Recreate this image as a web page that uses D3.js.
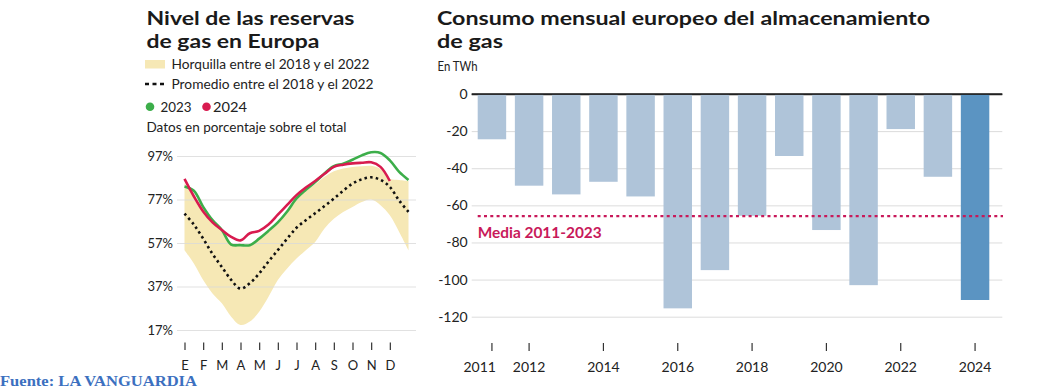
<!DOCTYPE html>
<html><head><meta charset="utf-8">
<script src="https://cdn.jsdelivr.net/npm/d3@7"></script>
<style>
html,body{margin:0;padding:0;background:#fff;}
svg{display:block;font-family:Lato,"Open Sans",sans-serif;}
</style></head>
<body>
<svg id="c" width="1043" height="389"></svg>
<script>
// ---------- DATA ----------
const months = ["E","F","M","A","M","J","J","A","S","O","N","D"];
const monthPos = [0,0.5,1,1.5,2,2.5,3,3.5,4,4.5,5,5.5,6,6.5,7,7.5,8,8.5,9,9.5,10,10.5,11,11.5,12];
const rangeHigh = [84.5,79,73,67,62,57,55.5,56,58.5,62,66,71.5,77.5,81,84,87.5,90,91.3,92,92.3,92.5,91,86.5,86,85.5];
const rangeLow  = [53.7,47.6,40,33.8,29.3,23.1,19.3,20.9,25.4,32.3,40,45.3,49.9,53.7,57.5,63.7,68.2,71.3,73.6,75.9,77,74.4,69.8,62.1,53.7];
const average   = [70.5,65.5,59,52,46,40,36,38.5,43,48.5,53.7,59,64,67.5,70.7,74,77.4,81,84.3,86.3,87.2,86,82.8,76.5,71.3];
const y2023     = [83,81,73.6,67.5,63,56.3,56,56,59,62.6,66.5,71.5,77.5,81.5,85,89,92.3,93.5,95.3,97.3,98.7,98.4,95,89.7,86];
const y2024     = [86.5,78.5,71.5,66.5,63,59.8,58.2,61.5,62.6,65.5,70,74.5,79,82.5,85.5,88.8,92,93,93.6,93.9,94.1,92,85.5];
const pctTicks  = [17,37,57,77,97];

const years     = [2011,2012,2013,2014,2015,2016,2017,2018,2019,2020,2021,2022,2023,2024];
const consumo   = [-24.4,-49.4,-54.1,-47.3,-55.2,-115.5,-94.9,-65.6,-33.4,-73.3,-103,-18.9,-44.6,-111];
const yearTicks = [2011,2012,2014,2016,2018,2020,2022,2024];
const twhTicks  = [0,-20,-40,-60,-80,-100,-120];
const mediaValue = -65.8;

// ---------- HELPERS ----------
const svg = d3.select("#c");
function txt(sel, s, x, y, opts){
  const t = sel.append("text").attr("x",x).attr("y",y).text(s);
  Object.entries(opts||{}).forEach(([k,v])=>{ if(k!=="fit") t.attr(k,v); });
  if(opts && opts.fit){
    t.attr("textLength",opts.fit).attr("lengthAdjust","spacingAndGlyphs");
  }
  return t;
}

// ---------- LEFT CHART ----------
const L = svg.append("g");
txt(L,"Nivel de las reservas",146.5,24.5,{"font-size":19,"font-weight":700,fill:"#1a1a1a",fit:208});
txt(L,"de gas en Europa",146.5,47.5,{"font-size":19,"font-weight":700,fill:"#1a1a1a",fit:173});

L.append("rect").attr("x",145).attr("y",60).attr("width",20).attr("height",8.5).attr("fill","#f6e8b5");
txt(L,"Horquilla entre el 2018 y el 2022",171.5,68.8,{"font-size":13.5,fill:"#222",fit:198});
L.append("line").attr("x1",145).attr("x2",166).attr("y1",84).attr("y2",84)
  .attr("stroke","#111").attr("stroke-width",2.5).attr("stroke-dasharray","4,3.5");
txt(L,"Promedio entre el 2018 y el 2022",171.5,88.5,{"font-size":13.5,fill:"#222",fit:202});
L.append("circle").attr("cx",150).attr("cy",106.8).attr("r",4.3).attr("fill","#3cae4a");
txt(L,"2023",160.5,111.6,{"font-size":13.5,fill:"#222",fit:31});
L.append("circle").attr("cx",206.5).attr("cy",106.8).attr("r",4.3).attr("fill","#d81b4f");
txt(L,"2024",213,111.6,{"font-size":13.5,fill:"#222",fit:34});
txt(L,"Datos en porcentaje sobre el total",146.5,132,{"font-size":13.5,fill:"#222",fit:200});

const xL = d3.scaleLinear().domain([0,12]).range([184.5,408.5]);
const yL = d3.scaleLinear().domain([17,97]).range([330,156]);

// band
const bandData = monthPos.map((m,i)=>({m, lo:rangeLow[i], hi:rangeHigh[i]}));
L.append("path").datum(bandData)
  .attr("d", d3.area().x(d=>xL(d.m)).y0(d=>yL(d.lo)).y1(d=>yL(d.hi)).curve(d3.curveCatmullRom))
  .attr("fill","#f6e8b5");

// grid + y axis
const axL = L.append("g").attr("transform","translate(177,0)")
  .call(d3.axisLeft(yL).tickValues(pctTicks).tickSize(-(416-177)).tickPadding(4).tickFormat(d=>d+"%"));
axL.select(".domain").remove();
axL.selectAll(".tick line").attr("stroke","#d9d9d9").attr("stroke-opacity",0.8);
axL.selectAll(".tick text").attr("font-size",13).attr("fill","#222").attr("font-family","Lato");

const line = d3.line().x(d=>xL(d[0])).y(d=>yL(d[1])).curve(d3.curveCatmullRom);
L.append("path").datum(monthPos.map((m,i)=>[m,average[i]]))
  .attr("d",line).attr("fill","none").attr("stroke","#111").attr("stroke-width",2.6)
  .attr("stroke-dasharray","2.5,3.2");
L.append("path").datum(monthPos.map((m,i)=>[m,y2023[i]]))
  .attr("d",line).attr("fill","none").attr("stroke","#3cae4a").attr("stroke-width",2.6);
L.append("path").datum(y2024.map((v,i)=>[monthPos[i],v]))
  .attr("d",line).attr("fill","none").attr("stroke","#d81b4f").attr("stroke-width",2.6);

// month axis
const axM = L.append("g").attr("transform","translate(0,342.5)")
  .call(d3.axisBottom(xL).tickValues(d3.range(12)).tickSize(7.5).tickFormat(i=>months[i]));
axM.select(".domain").remove();
axM.selectAll(".tick line").attr("stroke","#333").attr("stroke-width",1.2);
axM.selectAll(".tick text").attr("y",27).attr("dy",0).attr("font-size",13).attr("fill","#222").attr("font-family","Lato");

// ---------- RIGHT CHART ----------
const R = svg.append("g");
txt(R,"Consumo mensual europeo del almacenamiento",437,24.5,{"font-size":19,"font-weight":700,fill:"#1a1a1a",fit:493});
txt(R,"de gas",437,47.5,{"font-size":19,"font-weight":700,fill:"#1a1a1a",fit:66});
txt(R,"En TWh",437.5,71,{"font-size":12.5,fill:"#222",fit:40});

const xR = d3.scaleBand().domain(years).range([477.7,989.3]).paddingInner(0.234).paddingOuter(0);
const yR = d3.scaleLinear().domain([0,-120]).range([94,316.7]);

const axR = R.append("g").attr("transform","translate(471.7,0)")
  .call(d3.axisLeft(yR).tickValues(twhTicks).tickSize(-(1002.3-471.7)).tickPadding(4).tickFormat(d=>String(d)));
axR.select(".domain").remove();
axR.selectAll(".tick line").attr("stroke",d=>d===0?"#222":"#dcdcdc").attr("stroke-width",d=>d===0?1.4:1);
axR.selectAll(".tick text").attr("font-size",14).attr("fill","#222").attr("font-family","Lato");

R.selectAll("rect.bar").data(years).enter().append("rect").attr("class","bar")
  .attr("x",d=>xR(d)).attr("width",xR.bandwidth())
  .attr("y",yR(0)+0.7).attr("height",(d,i)=>yR(consumo[i])-yR(0)-0.7)
  .attr("fill",d=>d===2024?"#5b94c2":"#afc4d9");

// zero line on top
R.append("line").attr("x1",471.7).attr("x2",1002.3).attr("y1",yR(0)).attr("y2",yR(0))
  .attr("stroke","#222").attr("stroke-width",1.4);

// media line
R.append("line").attr("x1",477.7).attr("x2",1003).attr("y1",yR(mediaValue)).attr("y2",yR(mediaValue))
  .attr("stroke","#c8195a").attr("stroke-width",2.4).attr("stroke-dasharray","3,3.3");
txt(R,"Media 2011-2023",477.7,237.5,{"font-size":16,"font-weight":700,fill:"#c8195a",fit:124});

// year axis
const axY = R.append("g").attr("transform","translate(0,343)")
  .call(d3.axisBottom(xR).tickValues(yearTicks).tickSize(8));
axY.select(".domain").remove();
axY.selectAll(".tick line").attr("stroke","#333").attr("stroke-width",1.2);
axY.selectAll(".tick text").attr("y",28.5).attr("dy",0).attr("font-size",14).attr("fill","#222").attr("font-family","Lato")
  .attr("text-anchor",d=>d===2011?"end":"middle").attr("x",d=>d===2011?4:0);

// ---------- SOURCE ----------
txt(svg,"Fuente: LA VANGUARDIA",0,385.5,{"font-size":15.5,"font-weight":700,fill:"#3c70c0","font-family":"Liberation Serif, serif",fit:197});
</script>
</body></html>
